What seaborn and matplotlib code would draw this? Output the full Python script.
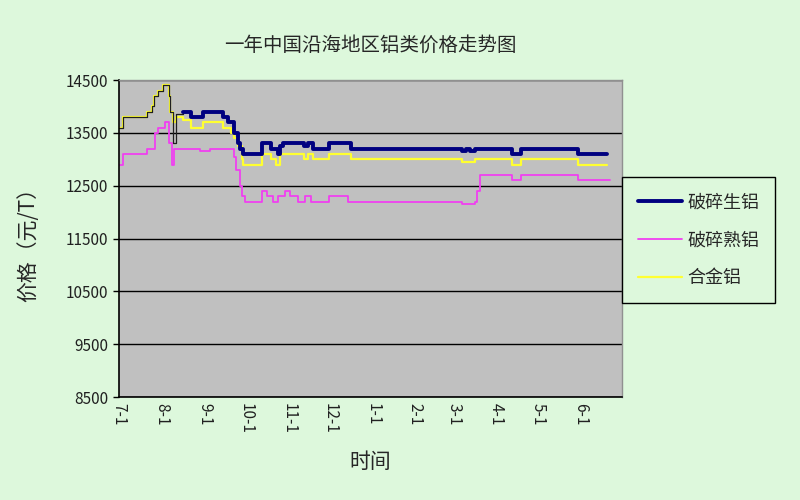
import pandas as pd
import seaborn as sns
import matplotlib.pyplot as plt
from matplotlib.lines import Line2D

sns.set_style('white')
plt.rcParams['font.family'] = ['Noto Sans CJK SC', 'DejaVu Sans']

# 破碎生铝 (前段为细线)
sheng_dates = ['2008-07-01', '2008-07-04', '2008-07-21', '2008-07-25', '2008-07-26', '2008-07-29',
               '2008-08-02', '2008-08-06', '2008-08-07', '2008-08-09', '2008-08-11', '2008-08-16',
               '2008-08-22', '2008-08-31', '2008-09-14', '2008-09-18', '2008-09-22', '2008-09-25',
               '2008-09-27', '2008-09-29', '2008-10-13', '2008-10-19', '2008-10-24', '2008-10-26',
               '2008-10-28', '2008-11-12', '2008-11-15', '2008-11-19', '2008-11-30', '2008-12-16',
               '2009-03-07', '2009-03-10', '2009-03-13', '2009-03-16', '2009-04-12', '2009-04-19',
               '2009-05-30', '2009-06-20']
sheng_vals = [13600, 13800, 13900, 14000, 14200, 14300,
              14400, 14200, 13900, 13300, 13850, 13900,
              13800, 13900, 13800, 13700, 13500, 13300,
              13200, 13100, 13300, 13200, 13100, 13250,
              13300, 13250, 13300, 13200, 13300, 13200,
              13150, 13200, 13150, 13200, 13100, 13200,
              13100, 13100]

# 破碎熟铝
shu_dates = ['2008-07-01', '2008-07-04', '2008-07-21', '2008-07-27', '2008-07-29', '2008-08-03',
             '2008-08-06', '2008-08-08', '2008-08-10', '2008-08-29', '2008-09-05', '2008-09-22',
             '2008-09-24', '2008-09-27', '2008-09-28', '2008-09-30', '2008-10-13', '2008-10-16',
             '2008-10-21', '2008-10-24', '2008-10-29', '2008-11-02', '2008-11-08', '2008-11-13',
             '2008-11-17', '2008-11-30', '2008-12-14', '2009-03-07', '2009-03-16', '2009-03-18',
             '2009-03-20', '2009-04-12', '2009-04-19', '2009-05-30', '2009-06-22']
shu_vals = [12900, 13100, 13200, 13500, 13600, 13700,
            13300, 12900, 13200, 13150, 13200, 13050,
            12800, 12500, 12300, 12200, 12400, 12300,
            12200, 12300, 12400, 12300, 12200, 12300,
            12200, 12300, 12200, 12150, 12200, 12400,
            12700, 12600, 12700, 12600, 12600]

# 合金铝
hejin_dates = ['2008-07-01', '2008-07-04', '2008-07-21', '2008-07-25', '2008-07-26', '2008-07-29',
               '2008-08-02', '2008-08-06', '2008-08-07', '2008-08-09', '2008-08-11', '2008-08-16',
               '2008-08-22', '2008-08-31', '2008-09-14', '2008-09-20', '2008-09-22', '2008-09-25',
               '2008-09-28', '2008-09-29', '2008-10-13', '2008-10-19', '2008-10-23', '2008-10-26',
               '2008-11-12', '2008-11-15', '2008-11-19', '2008-11-30', '2008-12-16', '2009-03-07',
               '2009-03-16', '2009-04-12', '2009-04-19', '2009-05-30', '2009-06-20']
hejin_vals = [13600, 13800, 13900, 14000, 14200, 14300,
              14400, 14200, 13900, 13700, 13800, 13750,
              13600, 13700, 13600, 13500, 13400, 13250,
              13000, 12900, 13100, 13000, 12900, 13100,
              13000, 13100, 13000, 13100, 13000, 12950,
              13000, 12900, 13000, 12900, 12900]

tick_dates = pd.date_range('2008-07-01', '2009-07-01', freq='MS')
tick_labels = ['7-1', '8-1', '9-1', '10-1', '11-1', '12-1', '1-1', '2-1', '3-1', '4-1', '5-1', '6-1', '']
y_ticks = [8500, 9500, 10500, 11500, 12500, 13500, 14500]

bg = '#DDF8DC'
c_sheng, c_shu, c_hejin = '#000080', '#F040F0', '#FFFF30'

df_sheng = pd.DataFrame({'date': pd.to_datetime(sheng_dates), 'price': sheng_vals})
df_shu = pd.DataFrame({'date': pd.to_datetime(shu_dates), 'price': shu_vals})
df_hejin = pd.DataFrame({'date': pd.to_datetime(hejin_dates), 'price': hejin_vals})

fig = plt.figure(figsize=(8, 5), dpi=100, facecolor=bg)
ax = fig.add_axes([0.149, 0.206, 0.6285, 0.634])
ax.set_facecolor('#C0C0C0')

sns.lineplot(data=df_hejin, x='date', y='price', ax=ax, color=c_hejin, lw=1.6,
             drawstyle='steps-post')
sns.lineplot(data=df_shu, x='date', y='price', ax=ax, color=c_shu, lw=1.3,
             drawstyle='steps-post')
early = df_sheng[df_sheng['date'] <= '2008-08-16']
late = df_sheng[df_sheng['date'] >= '2008-08-16']
sns.lineplot(data=early, x='date', y='price', ax=ax, color='#202020', lw=0.9,
             drawstyle='steps-post')
sns.lineplot(data=late, x='date', y='price', ax=ax, color=c_sheng, lw=2.8,
             drawstyle='steps-post')

ax.set_xlim(tick_dates[0], tick_dates[-1])
ax.set_ylim(8500, 14500)
ax.set_yticks(y_ticks)
ax.set_yticklabels([str(v) for v in y_ticks], fontsize=11, color='#202020')
ax.set_xticks(tick_dates)
ax.set_xticklabels(tick_labels, rotation=-90, fontsize=11, color='#202020')
ax.tick_params(axis='x', direction='in', length=5, width=1, color='black', pad=4)
ax.tick_params(axis='y', direction='out', length=4, width=1, color='black', pad=4, left=True)
ax.yaxis.grid(True, color='black', lw=1)
ax.xaxis.grid(False)
ax.set_xlabel('')
ax.set_ylabel('')

for side in ['left', 'bottom']:
    ax.spines[side].set_color('black')
    ax.spines[side].set_linewidth(1.2)
for side in ['top', 'right']:
    ax.spines[side].set_color('#909090')
    ax.spines[side].set_linewidth(1)

fig.text(0.463, 0.91, '一年中国沿海地区铝类价格走势图', ha='center', va='center', fontsize=14)
fig.text(0.035, 0.52, '价格（元/T）', ha='center', va='center', rotation=90, fontsize=15)
fig.text(0.463, 0.076, '时间', ha='center', va='center', fontsize=15)

handles = [Line2D([], [], color=c_sheng, lw=2.8),
           Line2D([], [], color=c_shu, lw=1.3),
           Line2D([], [], color=c_hejin, lw=1.6)]
leg = fig.legend(handles, ['破碎生铝', '破碎熟铝', '合金铝'], loc='upper left',
                 bbox_to_anchor=(0.7775, 0.646), bbox_transform=fig.transFigure,
                 fontsize=13, frameon=True, fancybox=False, facecolor=bg,
                 edgecolor='black', framealpha=1, borderpad=0.9, labelspacing=1.1,
                 handlelength=2.4, handletextpad=0.3, borderaxespad=0)
leg.get_frame().set_linewidth(1)

fig.savefig('out.png', dpi=100, facecolor=bg)
